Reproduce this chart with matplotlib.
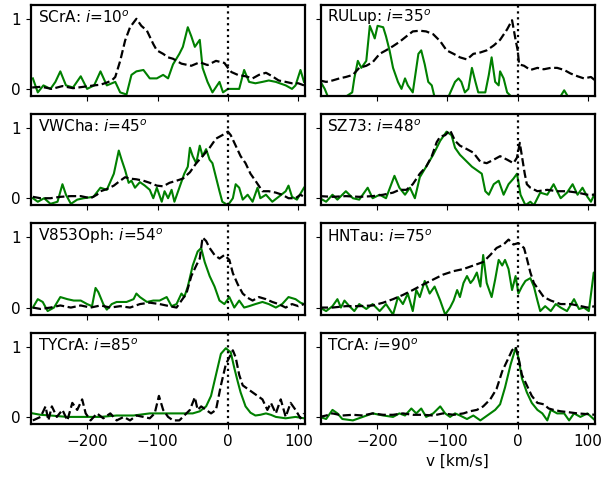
import matplotlib
matplotlib.use("Agg")
import matplotlib.pyplot as plt

# ---------- DATA ----------
names = ["SCrA", "RULup", "VWCha", "SZ73", "V853Oph", "HNTau", "TYCrA", "TCrA"]
incl = [10, 35, 45, 48, 54, 75, 85, 90]

scra_vk = [-278, -265, -250, -235, -220, -205, -190, -181, -172, -165, -160, -153, -146, -139, -130, -123, -115, -106, -101, -92,
           -85, -78, -66, -52, -40, -29, -17, -5, 0, 5, 14, 25, 35, 44, 54, 63, 72, 82, 91, 100, 108]
scra_k = [0.02, 0.03, 0.0, 0.04, 0.01, 0.03, 0.05, 0.06, 0.09, 0.12, 0.17, 0.4, 0.69, 0.88, 1.0, 0.9, 0.83, 0.64, 0.55, 0.5,
          0.45, 0.43, 0.36, 0.33, 0.38, 0.34, 0.4, 0.37, 0.3, 0.24, 0.2, 0.18, 0.15, 0.2, 0.23, 0.18, 0.12, 0.1, 0.08, 0.08, 0.05]
scra_vg = [-277, -270, -262, -252, -245, -238, -230, -220, -209, -200, -190, -181, -172, -160, -153, -144, -137, -130, -120, -111,
           -101, -92, -85, -78, -69, -64, -57, -52, -47, -40, -36, -29, -22, -12, -7, 0, 7, 16, 23, 30,
           39, 49, 58, 68, 82, 91, 96, 103, 108]
scra_g = [0.15, -0.05, 0.05, 0.0, 0.1, 0.25, 0.05, 0.02, 0.18, 0.0, 0.05, 0.25, 0.05, 0.1, -0.05, -0.08, 0.2, 0.25, 0.27, 0.15,
          0.15, 0.2, 0.15, 0.35, 0.5, 0.6, 0.88, 0.75, 0.6, 0.7, 0.3, 0.1, -0.05, 0.1, -0.05, 0.0, 0.0, 0.0, 0.27, 0.1,
          0.08, 0.1, 0.12, 0.1, 0.05, 0.0, 0.05, 0.27, 0.1]

rulup_vk = [-281, -272, -263, -253, -244, -234, -225, -215, -206, -196, -187, -177, -168, -158, -149, -139, -130, -120, -110, -101,
            -91, -82, -72, -63, -53, -44, -34, -25, -15, -8, -3, 0, 2, 9, 18, 28, 37, 47, 56, 66, 75, 85, 94, 104, 110]
rulup_k = [0.12, 0.1, 0.12, 0.15, 0.17, 0.2, 0.3, 0.33, 0.38, 0.5, 0.55, 0.61, 0.67, 0.75, 0.82, 0.83, 0.82, 0.78, 0.68, 0.55,
           0.5, 0.45, 0.42, 0.5, 0.52, 0.55, 0.62, 0.7, 0.85, 0.98, 0.7, 0.55, 0.35, 0.33, 0.27, 0.3, 0.28, 0.3, 0.3, 0.27,
           0.22, 0.18, 0.15, 0.17, 0.12]
rulup_vg = [-281, -274, -268, -250, -235, -232, -227, -222, -215, -210, -206, -203, -199, -191, -187, -182, -177, -170, -165, -160,
            -156, -149, -141, -137, -132, -127, -122, -118, -100, -89, -84, -80, -75, -70, -65, -60, -56, -46, -41, -37,
            -32, -27, -25, -20, -15, -5, 20, 60, 66, 72, 110]
rulup_g = [0.12, 0.0, -0.15, -0.15, -0.05, 0.15, 0.4, 0.3, 0.4, 0.9, 0.8, 0.72, 0.9, 0.88, 0.75, 0.55, 0.3, 0.1, 0.0, 0.15,
           0.05, -0.05, 0.5, 0.55, 0.35, 0.1, 0.05, -0.12, -0.15, 0.1, 0.15, 0.1, -0.05, 0.0, 0.3, 0.1, -0.05, -0.05, 0.2, 0.45,
           0.1, 0.05, 0.25, 0.15, -0.05, -0.15, -0.15, -0.12, -0.02, -0.12, -0.15]

vwcha_vk = [-277, -266, -252, -238, -223, -209, -195, -186, -181, -172, -162, -153, -146, -139, -130, -120, -111, -101, -92, -83,
            -73, -64, -54, -45, -36, -26, -17, -8, 0, 4, 11, 18, 25, 32, 39, 49, 58, 68, 77, 86, 96, 103, 108]
vwcha_k = [0.02, 0.0, 0.0, 0.02, 0.03, 0.03, 0.0, 0.05, 0.1, 0.13, 0.18, 0.25, 0.3, 0.28, 0.27, 0.25, 0.22, 0.18, 0.17, 0.22,
           0.25, 0.28, 0.37, 0.5, 0.6, 0.72, 0.85, 0.9, 0.95, 0.9, 0.75, 0.6, 0.5, 0.35, 0.25, 0.1, 0.1, 0.08, 0.05, 0.0,
           0.0, 0.05, 0.02]
vwcha_vg = [-277, -270, -261, -252, -242, -235, -230, -223, -214, -205, -191, -181, -172, -162, -155, -151, -146, -141, -137, -132,
            -125, -118, -111, -106, -101, -94, -90, -85, -80, -76, -69, -62, -57, -54, -50, -45, -40, -36, -31, -26,
            -22, -17, -12, -8, 0, 7, 11, 16, 21, 28, 35, 42, 46, 54, 63, 72, 82, 86, 91, 98, 108]
vwcha_g = [0.0, -0.05, 0.0, -0.08, -0.05, 0.2, 0.05, -0.08, -0.02, 0.0, 0.02, 0.15, 0.12, 0.35, 0.68, 0.55, 0.4, 0.22, 0.25, 0.15,
           0.23, 0.18, 0.12, 0.0, 0.15, -0.05, 0.1, 0.0, 0.12, -0.05, 0.15, 0.35, 0.45, 0.72, 0.6, 0.5, 0.75, 0.6, 0.7, 0.55,
           0.5, 0.3, 0.1, -0.05, -0.1, 0.0, 0.2, 0.15, -0.02, 0.05, -0.05, 0.15, 0.0, 0.05, -0.05, 0.02, 0.1, 0.18, 0.02, -0.02,
           0.15]

sz73_vk = [-281, -263, -244, -225, -206, -191, -177, -168, -158, -149, -139, -130, -122, -115, -110, -103, -96, -89, -82, -72,
           -63, -53, -44, -34, -25, -15, -6, -1, 3, 6, 10, 13, 18, 28, 42, 56, 70, 85, 99, 110]
sz73_k = [0.03, 0.02, 0.03, 0.02, 0.03, 0.05, 0.08, 0.12, 0.12, 0.2, 0.35, 0.45, 0.6, 0.8, 0.88, 0.9, 0.97, 0.82, 0.75, 0.7,
          0.65, 0.52, 0.5, 0.55, 0.6, 0.55, 0.5, 0.58, 0.79, 0.6, 0.35, 0.2, 0.15, 0.1, 0.12, 0.1, 0.1, 0.08, 0.05, 0.05]
sz73_vg = [-281, -272, -263, -256, -244, -234, -225, -213, -206, -196, -187, -175, -168, -160, -153, -146, -139, -130, -120, -110,
           -101, -94, -89, -82, -72, -65, -58, -51, -46, -41, -34, -27, -20, -13, -6, -1, 4, 11, 18, 23,
           32, 42, 51, 61, 70, 78, 85, 92, 99, 104, 110]
sz73_g = [0.0, -0.05, 0.05, -0.02, 0.1, 0.0, -0.02, 0.15, 0.0, 0.05, 0.0, 0.32, 0.15, 0.05, 0.15, 0.0, 0.3, 0.45, 0.62, 0.82,
          0.95, 0.9, 0.72, 0.62, 0.52, 0.45, 0.4, 0.35, 0.1, 0.05, 0.2, 0.25, 0.05, 0.2, 0.28, 0.35, 0.05, -0.1, -0.05, -0.1,
          0.08, 0.05, 0.2, 0.0, 0.08, 0.2, 0.05, 0.15, 0.02, -0.05, 0.08]

v853_vk = [-277, -266, -252, -238, -223, -209, -195, -181, -167, -153, -139, -125, -111, -97, -83, -73, -66, -59, -52, -45,
           -40, -36, -31, -26, -19, -12, -5, 2, 7, 14, 21, 28, 35, 44, 54, 63, 72, 82, 91, 100, 108]
v853_k = [0.0, -0.02, 0.0, 0.03, 0.0, 0.03, 0.0, 0.03, 0.0, 0.02, 0.0, 0.05, 0.07, 0.05, 0.02, 0.0, 0.1, 0.2, 0.45, 0.6,
          0.7, 1.0, 0.95, 0.85, 0.75, 0.7, 0.75, 0.68, 0.49, 0.33, 0.2, 0.14, 0.1, 0.15, 0.12, 0.08, 0.05, 0.0, 0.05, 0.02, 0.05]
v853_vg = [-277, -270, -263, -256, -247, -238, -228, -219, -209, -200, -193, -188, -184, -177, -172, -165, -158, -144, -134, -130,
           -125, -115, -106, -97, -87, -80, -73, -66, -62, -57, -50, -43, -38, -33, -26, -19, -12, -5, 2, 9,
           16, 23, 30, 39, 49, 58, 68, 77, 86, 96, 103, 108]
v853_g = [0.0, 0.12, 0.08, -0.05, 0.0, 0.15, 0.12, 0.1, 0.1, 0.05, 0.02, 0.28, 0.22, 0.05, -0.03, 0.05, 0.08, 0.08, 0.12, 0.2,
          0.15, 0.08, 0.1, 0.1, 0.15, 0.02, 0.05, 0.2, 0.15, 0.3, 0.6, 0.8, 0.85, 0.65, 0.45, 0.3, 0.1, 0.05, 0.15, 0.0,
          0.1, 0.0, 0.02, 0.05, 0.08, 0.05, 0.0, 0.05, 0.15, 0.12, 0.07, 0.05]

hntau_vk = [-281, -263, -244, -225, -206, -191, -177, -163, -149, -134, -120, -106, -91, -77, -63, -49, -39, -30, -20, -13,
            -6, 1, 9, 13, 18, 23, 30, 37, 47, 61, 75, 90, 99, 110]
hntau_k = [0.0, 0.0, 0.02, 0.02, 0.03, 0.07, 0.12, 0.18, 0.25, 0.33, 0.4, 0.47, 0.52, 0.55, 0.6, 0.65, 0.75, 0.85, 0.9, 0.97,
           0.9, 0.92, 0.85, 0.7, 0.5, 0.35, 0.25, 0.15, 0.1, 0.05, 0.05, 0.02, 0.0, 0.02]
hntau_vg = [-281, -272, -263, -256, -251, -246, -239, -232, -225, -215, -206, -196, -187, -177, -170, -163, -156, -149, -144, -139,
            -132, -125, -118, -110, -103, -96, -91, -86, -82, -77, -72, -67, -63, -58, -53, -49, -44, -37, -32, -27,
            -22, -18, -13, -8, -3, 1, 6, 11, 18, 23, 28, 32, 39, 47, 54, 61, 70, 80, 87, 94, 101, 108, 110]
hntau_g = [0.0, -0.05, 0.02, 0.12, 0.0, 0.1, 0.02, -0.05, 0.05, -0.02, 0.05, -0.05, 0.05, -0.1, 0.15, 0.05, 0.2, -0.05, 0.25, 0.15,
           0.38, 0.2, 0.3, 0.1, -0.1, 0.0, 0.1, 0.25, 0.15, 0.35, 0.45, 0.35, 0.4, 0.5, 0.3, 0.75, 0.35, 0.15, 0.4, 0.68,
           0.6, 0.68, 0.55, 0.25, 0.45, 0.2, 0.3, 0.38, 0.42, 0.3, 0.1, -0.05, 0.02, -0.05, 0.05, 0.0, -0.05, 0.12, -0.02, 0.0,
           -0.05, 0.5, 0.45]

tycra_vk = [-277, -266, -259, -255, -250, -243, -235, -228, -221, -214, -207, -202, -195, -186, -177, -167, -158, -148, -139, -130,
            -120, -111, -104, -98, -92, -85, -78, -69, -62, -54, -47, -43, -38, -31, -24, -17, -10, -3, 2, 7,
            11, 16, 21, 28, 35, 42, 49, 56, 61, 68, 75, 82, 89, 96, 103, 108]
tycra_k = [-0.05, 0.0, 0.15, -0.05, 0.15, 0.0, 0.1, -0.05, 0.2, 0.1, 0.25, 0.05, -0.05, 0.05, -0.02, 0.05, -0.05, 0.0, -0.05, 0.02,
           0.0, -0.02, 0.05, 0.3, 0.1, 0.0, -0.05, -0.05, 0.02, 0.1, 0.28, 0.1, 0.15, 0.1, 0.05, 0.1, 0.45, 0.75, 0.85, 0.95,
           0.85, 0.6, 0.45, 0.4, 0.35, 0.3, 0.25, 0.1, 0.2, 0.05, 0.25, 0.0, 0.2, 0.1, -0.02, 0.05]
tycra_vg = [-277, -266, -252, -228, -205, -181, -158, -134, -111, -87, -64, -50, -40, -31, -24, -17, -10, -3, 4, 9,
            14, 18, 25, 32, 39, 46, 54, 61, 68, 82, 96, 108]
tycra_g = [0.05, 0.03, 0.02, 0.0, 0.0, 0.0, 0.02, 0.02, 0.05, 0.05, 0.05, 0.05, 0.08, 0.15, 0.3, 0.6, 0.9, 0.98, 0.92, 0.7,
           0.5, 0.35, 0.15, 0.06, 0.02, 0.03, 0.05, 0.03, 0.0, -0.02, 0.0, -0.02]

tcra_vk = [-281, -272, -263, -249, -234, -220, -206, -191, -177, -163, -149, -134, -120, -106, -91, -77, -68, -58, -49, -39,
           -30, -22, -15, -8, -3, 1, 6, 13, 20, 28, 37, 44, 51, 61, 70, 85, 99, 110]
tcra_k = [0.0, 0.02, 0.05, 0.02, 0.03, 0.02, 0.05, 0.03, 0.03, 0.05, 0.03, 0.03, 0.02, 0.05, 0.03, 0.05, 0.08, 0.1, 0.15, 0.25,
          0.4, 0.65, 0.8, 0.95, 1.0, 0.85, 0.6, 0.45, 0.3, 0.2, 0.18, 0.12, 0.1, 0.08, 0.07, 0.05, 0.04, 0.03]
tcra_vg = [-281, -272, -263, -256, -249, -234, -220, -206, -191, -177, -168, -160, -151, -144, -137, -130, -120, -110, -103, -96,
           -89, -82, -72, -63, -53, -46, -39, -32, -25, -18, -10, -3, 1, 6, 13, 20, 28, 35, 42, 47,
           56, 66, 73, 80, 89, 99, 110]
tcra_g = [0.0, -0.03, 0.1, 0.05, -0.03, -0.05, 0.0, 0.05, 0.02, 0.0, 0.05, 0.02, 0.12, 0.05, 0.12, 0.0, 0.05, 0.15, 0.05, 0.0,
          0.05, 0.02, -0.03, 0.02, -0.05, 0.0, 0.05, 0.1, 0.18, 0.42, 0.75, 0.98, 0.85, 0.55, 0.35, 0.2, 0.1, 0.05, -0.05, 0.1,
          0.05, 0.05, -0.05, 0.05, 0.0, 0.05, -0.05]

green_v = [scra_vg, rulup_vg, vwcha_vg, sz73_vg, v853_vg, hntau_vg, tycra_vg, tcra_vg]
green_y = [scra_g, rulup_g, vwcha_g, sz73_g, v853_g, hntau_g, tycra_g, tcra_g]
black_v = [scra_vk, rulup_vk, vwcha_vk, sz73_vk, v853_vk, hntau_vk, tycra_vk, tcra_vk]
black_y = [scra_k, rulup_k, vwcha_k, sz73_k, v853_k, hntau_k, tycra_k, tcra_k]

# ---------- PLOT ----------
plt.rcParams['font.size'] = 11

fig, axes = plt.subplots(4, 2, figsize=(6.03, 4.79), dpi=100, sharex=True, sharey=True)
fig.subplots_adjust(left=0.051, right=0.987, top=0.99, bottom=0.115, wspace=0.055, hspace=0.2)

for i, ax in enumerate(axes.flat):
    ax.plot(green_v[i], green_y[i], color='green', lw=1.5)
    ax.plot(black_v[i], black_y[i], color='black', ls='--', lw=1.6)
    ax.axvline(0, color='black', ls=':', lw=1.6)
    ax.text(0.025, 0.86, f"{names[i]}: $i$={incl[i]}$^o$", transform=ax.transAxes, va='center')
    for s in ax.spines.values():
        s.set_linewidth(1.6)

ax = axes[0, 0]
ax.set_xlim(-280, 110)
ax.set_ylim(-0.1, 1.2)
ax.set_xticks([-200, -100, 0, 100])
ax.set_yticks([0, 1])

axes[3, 1].set_xlabel("v [km/s]")

fig.savefig("out.png", dpi=100)
